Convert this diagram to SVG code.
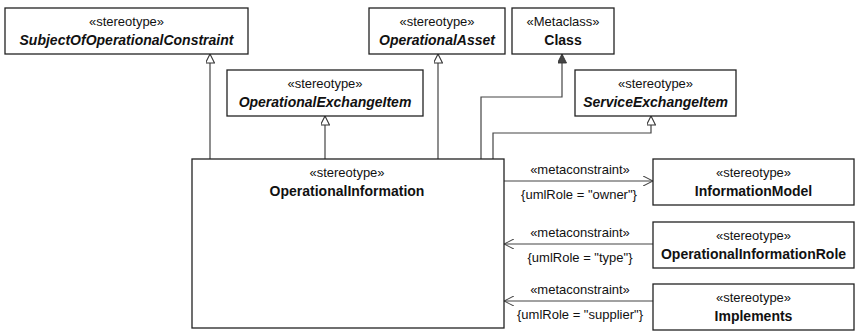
<svg xmlns="http://www.w3.org/2000/svg" width="862" height="333" viewBox="0 0 862 333">
<style>
.box{fill:#fff;stroke:#222;stroke-width:1.3}
.st{font-family:"Liberation Sans",Arial,sans-serif;font-size:13px;fill:#111;text-anchor:middle}
.nm{font-family:"Liberation Sans",Arial,sans-serif;font-size:14px;font-weight:bold;fill:#111;text-anchor:middle}
.it{font-style:italic}
.ln{fill:none;stroke:#444;stroke-width:1.2}
.lb{font-family:"Liberation Sans",Arial,sans-serif;font-size:13px;fill:#111;text-anchor:middle}
</style>
<defs>
<marker id="gen" viewBox="0 0 10 10" refX="10" refY="5" markerWidth="10" markerHeight="9" markerUnits="userSpaceOnUse" orient="auto">
<path d="M0,0 L10,5 L0,10 z" fill="#fff" stroke="#333" stroke-width="1.2"/>
</marker>
<marker id="ext" viewBox="0 0 10 10" refX="10" refY="5" markerWidth="10" markerHeight="9" markerUnits="userSpaceOnUse" orient="auto">
<path d="M0,0 L10,5 L0,10 z" fill="#444" stroke="#333" stroke-width="1"/>
</marker>
<marker id="open" viewBox="0 0 10 10" refX="10" refY="5" markerWidth="10" markerHeight="10" markerUnits="userSpaceOnUse" orient="auto">
<path d="M0,0 L10,5 L0,10" fill="none" stroke="#444" stroke-width="1.1"/>
</marker>
</defs>
<g id="connectors">
<path class="ln" d="M210,159 V54" marker-end="url(#gen)"/>
<path class="ln" d="M325,159 V116" marker-end="url(#gen)"/>
<path class="ln" d="M438,159 V54" marker-end="url(#gen)"/>
<path class="ln" d="M481,159 V97 H562 V54" marker-end="url(#ext)"/>
<path class="ln" d="M493,159 V133 H651 V116" marker-end="url(#gen)"/>
<path class="ln" d="M504,181 H653" marker-end="url(#open)"/>
<path class="ln" d="M653,244 H504" marker-end="url(#open)"/>
<path class="ln" d="M653,301 H504" marker-end="url(#open)"/>
<text class="lb" x="580" y="174">«metaconstraint»</text>
<text class="lb" x="579" y="199">{umlRole = "owner"}</text>
<text class="lb" x="580" y="237">«metaconstraint»</text>
<text class="lb" x="580" y="262">{umlRole = "type"}</text>
<text class="lb" x="580" y="294">«metaconstraint»</text>
<text class="lb" x="580" y="319">{umlRole = "supplier"}</text>
</g>
<g id="n1">
<rect class="box" x="5" y="8" width="243" height="46"/>
<text class="st" x="126.5" y="26">«stereotype»</text>
<text class="nm it" x="126.5" y="45">SubjectOfOperationalConstraint</text>
</g>
<g id="n2">
<rect class="box" x="369" y="8" width="136" height="46"/>
<text class="st" x="437" y="26">«stereotype»</text>
<text class="nm it" x="437" y="45">OperationalAsset</text>
</g>
<g id="n3">
<rect class="box" x="512" y="8" width="102" height="46"/>
<text class="st" x="563" y="26">«Metaclass»</text>
<text class="nm" x="563" y="45">Class</text>
</g>
<g id="n4">
<rect class="box" x="227" y="70" width="196" height="46"/>
<text class="st" x="325" y="88">«stereotype»</text>
<text class="nm it" x="325" y="107">OperationalExchangeItem</text>
</g>
<g id="n5">
<rect class="box" x="575" y="70" width="161" height="46"/>
<text class="st" x="655.5" y="88">«stereotype»</text>
<text class="nm it" x="655.5" y="107">ServiceExchangeItem</text>
</g>
<g id="n6">
<rect class="box" x="192" y="159" width="312" height="169"/>
<text class="st" x="347" y="177">«stereotype»</text>
<text class="nm" x="347" y="196">OperationalInformation</text>
</g>
<g id="n7">
<rect class="box" x="653" y="159" width="201" height="46"/>
<text class="st" x="753.5" y="177">«stereotype»</text>
<text class="nm" x="753.5" y="196">InformationModel</text>
</g>
<g id="n8">
<rect class="box" x="653" y="222" width="201" height="46"/>
<text class="st" x="753.5" y="240">«stereotype»</text>
<text class="nm" x="753.5" y="259">OperationalInformationRole</text>
</g>
<g id="n9">
<rect class="box" x="653" y="284" width="201" height="46"/>
<text class="st" x="753.5" y="302">«stereotype»</text>
<text class="nm" x="753.5" y="321">Implements</text>
</g>
</svg>
